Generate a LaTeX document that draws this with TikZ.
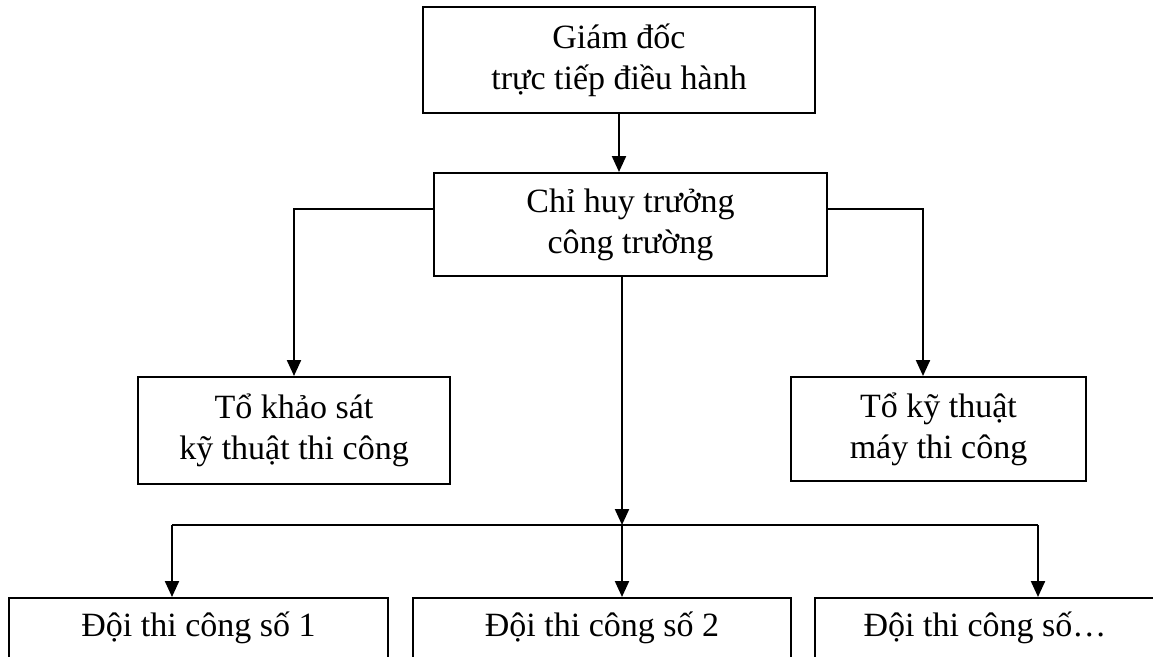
\documentclass[tikz,border=0pt]{standalone}
\usepackage{fontspec}
\setmainfont{Liberation Serif}
\usetikzlibrary{arrows.meta}
\tikzset{
  khoi/.style={draw, line width=2pt, align=center, inner sep=0pt,
    font=\fontsize{34}{41}\selectfont},
  muiten/.style={line width=2.2pt, -{Triangle[length=16pt,width=14pt]}},
}
\begin{document}
\begin{tikzpicture}[x=1pt,y=-1pt]
    \useasboundingbox (0,0) rectangle (1153,656);
    \node[khoi, minimum width=392, minimum height=106] (gd) at (619,60) {Giám đốc\\trực tiếp điều hành};
    \node[khoi, minimum width=393, minimum height=103] (ch) at (630.5,224.5) {Chỉ huy trưởng\\công trường};
    \node[khoi, minimum width=312, minimum height=107] (ks) at (294,430.5) {Tổ khảo sát\\kỹ thuật thi công};
    \node[khoi, minimum width=295, minimum height=104] (kt) at (938.5,429) {Tổ kỹ thuật\\máy thi công};
    \node[khoi, minimum width=379, minimum height=60] (d1) at (198.5,628) {Đội thi công số 1};
    \node[khoi, minimum width=378, minimum height=60] (d2) at (602,628) {Đội thi công số 2};
    \node[khoi, minimum width=340, minimum height=60] (d3) at (985,628) {Đội thi công số…};
    \coordinate (nhanh) at (622,525);
    \coordinate (n1) at (172,525);
    \coordinate (n3) at (1038,525);
    \draw[muiten] (gd.south) -- (gd.south |- ch.north);
    \draw[muiten] ([yshift=15.5pt]ch.west) -| (ks.north);
    \draw[muiten] ([yshift=15.5pt]ch.east) -| ([xshift=-15.5pt]kt.north);
    \draw[muiten] (ch.south -| nhanh) -- (nhanh);
    \draw[line width=1.8pt] (n1) -- (n3);
    \draw[muiten] (n1) -- (n1 |- d1.north);
    \draw[muiten] (nhanh) -- (nhanh |- d2.north);
    \draw[muiten] (n3) -- (n3 |- d3.north);
\end{tikzpicture}
\end{document}
